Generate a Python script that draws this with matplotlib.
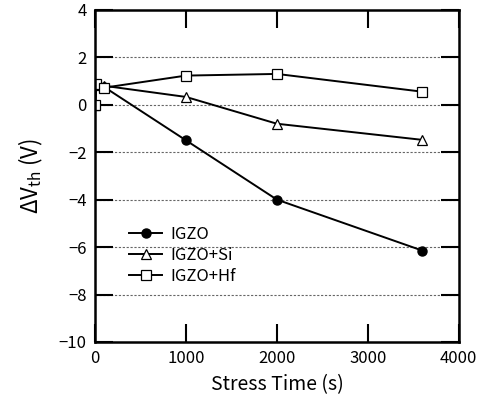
import matplotlib
matplotlib.use('Agg')
import matplotlib.pyplot as plt

plt.rcParams['font.family'] = ['Noto Sans CJK JP', 'DejaVu Sans']
plt.rcParams['mathtext.fontset'] = 'custom'
plt.rcParams['mathtext.rm'] = 'Noto Sans CJK JP'

time = [0, 10, 100, 1000, 2000, 3600]
igzo = [0, 0.82, 0.75, -1.5, -4.0, -6.15]
igzo_si = [0, 0.85, 0.8, 0.33, -0.8, -1.48]
igzo_hf = [0, 0.88, 0.72, 1.23, 1.3, 0.55]

fig = plt.figure(figsize=(4.85, 4.12), dpi=100)
ax = fig.add_axes([0.196, 0.170, 0.750, 0.806])

ax.plot(time, igzo, '-o', color='black', lw=1.4, ms=6.5, mfc='black', label='IGZO')
ax.plot(time, igzo_si, '-^', color='black', lw=1.4, ms=6.5, mfc='white', mew=0.9, label='IGZO+Si')
ax.plot(time, igzo_hf, '-s', color='black', lw=1.4, ms=6.5, mfc='white', mew=0.9, label='IGZO+Hf')

ax.set_xlim(0, 4000)
ax.set_ylim(-10, 4)
ax.set_xticks([0, 1000, 2000, 3000, 4000])
ax.set_yticks([-10, -8, -6, -4, -2, 0, 2, 4])
for y in [-8, -6, -4, -2, 0, 2]:
    ax.axhline(y, color='0.4', lw=0.8, ls=(0, (2, 1.5)), zorder=0)

ax.tick_params(direction='in', length=13, width=1.5, top=True, right=True, labelsize=12, pad=6)
for s in ax.spines.values():
    s.set_linewidth(1.8)

ax.set_xlabel('Stress Time (s)', fontsize=14, labelpad=5)
ax.set_ylabel(r'$\Delta$V$_{\rm th}$ (V)', fontsize=16, labelpad=10)

ax.legend(loc='upper left', bbox_to_anchor=(0.075, 0.37), frameon=False, fontsize=12,
          handlelength=2.0, handletextpad=0.5, labelspacing=0.25, borderaxespad=0)

plt.savefig('out.png', dpi=100)
